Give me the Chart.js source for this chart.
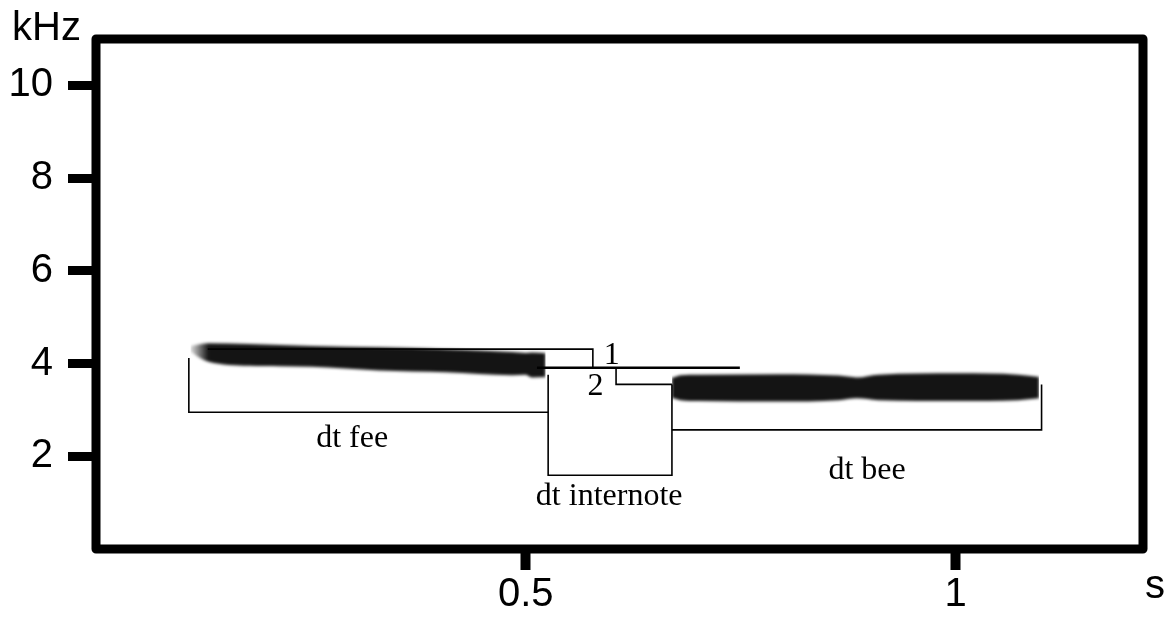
<!DOCTYPE html>
<html>
<head>
<meta charset="utf-8">
<title>fee-bee</title>
<script src="https://cdn.jsdelivr.net/npm/chart.js@4/dist/chart.umd.min.js"></script>
<style>
  html, body { margin: 0; padding: 0; background: #fff; }
  canvas { display: block; }
</style>
</head>
<body>
<canvas id="sonograma" width="1174" height="620"></canvas>
<script>
// Nota "fee": limites superior e inferior da banda (s, kHz)
const feeTimes = [0.110, 0.122, 0.131, 0.178, 0.251, 0.329, 0.407, 0.484, 0.500, 0.507, 0.523];
const feeUpper = [4.38, 4.42, 4.44, 4.42, 4.38, 4.35, 4.31, 4.25, 4.23, 4.24, 4.22];
const feeLower = [4.26, 4.11, 4.04, 3.95, 3.93, 3.85, 3.81, 3.75, 3.76, 3.70, 3.71];

// Nota "bee"
const beeTimes = [0.670, 0.680, 0.701, 0.794, 0.864, 0.885, 0.910, 1.003, 1.073, 1.097];
const beeUpper = [3.69, 3.75, 3.76, 3.77, 3.74, 3.70, 3.76, 3.79, 3.76, 3.71];
const beeLower = [3.26, 3.21, 3.19, 3.18, 3.21, 3.25, 3.21, 3.19, 3.21, 3.25];

const timeTicks = [0.5, 1];
const timeTickLabels = ["0.5", "1"];
const freqTicks = [2, 4, 6, 8, 10];
const freqTickLabels = ["2", "4", "6", "8", "10"];

// Chavetas das medições [s, kHz]
const feeBracket = [[0.108, 4.12], [0.108, 2.95], [0.526, 2.95]];
const internoteBracket = [[0.526, 3.76], [0.526, 1.59], [0.670, 1.59], [0.670, 3.55]];
const beeBracket = [[0.670, 2.57], [1.100, 2.57], [1.100, 3.55]];
const step1Line = [[0.130, 4.31], [0.578, 4.31], [0.578, 3.91]];
const step2Line = [[0.605, 3.91], [0.605, 3.55], [0.670, 3.55]];
const refLine = [[0.513, 3.91], [0.749, 3.91]];

const noteLabels = [
  { text: "dt fee", t: 0.298, f: 2.20 },
  { text: "dt internote", t: 0.597, f: 0.95 },
  { text: "dt bee", t: 0.897, f: 1.52 },
  { text: "1", t: 0.600, f: 3.99 },
  { text: "2", t: 0.581, f: 3.33 }
];

const SANS = '"Liberation Sans", Arial, sans-serif';
const SERIF = '"Liberation Serif", "Times New Roman", serif';
const BAND = "#141414";

function pontos(times, values) {
  return times.map((t, i) => ({ x: t, y: values[i] }));
}

function pares(lista) {
  return lista.map(([x, y]) => ({ x, y }));
}

// cor da nota fee: começa esbatida à esquerda
function feeFill(context) {
  const chart = context.chart;
  const xs = chart.scales.x;
  if (!chart.chartArea || !xs) return BAND;
  const x0 = xs.getPixelForValue(feeTimes[0]);
  const x1 = xs.getPixelForValue(feeTimes[2]);
  const grad = chart.ctx.createLinearGradient(x0, 0, x1, 0);
  grad.addColorStop(0, "rgba(20,20,20,0.15)");
  grad.addColorStop(1, BAND);
  return grad;
}

function banda(data, fill, cor) {
  return {
    data,
    fill,
    backgroundColor: cor,
    borderWidth: 0,
    pointRadius: 0,
    cubicInterpolationMode: "monotone",
    order: 10
  };
}

function traco(lista, largura = 1.6) {
  return {
    data: pares(lista),
    fill: false,
    borderColor: "#000",
    borderWidth: largura,
    pointRadius: 0,
    tension: 0,
    order: 0
  };
}

// desfoque só nas notas; moldura, rótulos e eixos extra
const sonogramaPlugin = {
  id: "sonograma",
  beforeDatasetsDraw(chart) {
    chart.ctx.filter = "blur(1.6px)";
  },
  afterDatasetDraw(chart, args) {
    if (args.index === 0) chart.ctx.filter = "none";
  },
  afterDatasetsDraw(chart) {
    const { ctx, chartArea, scales } = chart;
    ctx.save();
    ctx.filter = "none";

    ctx.lineWidth = 9;
    ctx.lineJoin = "round";
    ctx.strokeStyle = "#000";
    ctx.strokeRect(chartArea.left, chartArea.top, chartArea.right - chartArea.left, chartArea.bottom - chartArea.top);

    ctx.fillStyle = "#000";
    ctx.font = `32px ${SERIF}`;
    ctx.textAlign = "center";
    ctx.textBaseline = "alphabetic";
    noteLabels.forEach(l => {
      ctx.fillText(l.text, scales.x.getPixelForValue(l.t), scales.y.getPixelForValue(l.f));
    });

    ctx.font = `40px ${SANS}`;
    ctx.textAlign = "left";
    ctx.fillText("kHz", 12, 40);
    ctx.fillText("s", 1145, 598);
    ctx.restore();
  }
};

const datasets = [
  banda(pontos(feeTimes, feeUpper), "+1", feeFill),
  banda(pontos(feeTimes, feeLower), false, BAND),
  banda(pontos(beeTimes, beeUpper), "+1", BAND),
  banda(pontos(beeTimes, beeLower), false, BAND),
  traco(feeBracket),
  traco(internoteBracket),
  traco(beeBracket),
  traco(step1Line),
  traco(step2Line),
  traco(refLine, 2.6)
];

new Chart(document.getElementById("sonograma"), {
  type: "line",
  data: { datasets },
  options: {
    responsive: false,
    animation: false,
    events: [],
    layout: { padding: { top: 33, right: 31, left: 0, bottom: 0 } },
    plugins: {
      legend: { display: false },
      tooltip: { enabled: false },
      filler: { drawTime: "beforeDatasetDraw" }
    },
    scales: {
      x: {
        type: "linear",
        min: 0,
        max: 1.218,
        afterBuildTicks: scale => { scale.ticks = timeTicks.map(v => ({ value: v })); },
        afterFit: scale => { scale.height = 71; },
        border: { display: false },
        grid: {
          drawOnChartArea: false,
          drawTicks: true,
          tickLength: 21,
          tickWidth: 10,
          tickColor: "#000",
          color: "#000"
        },
        ticks: {
          autoSkip: false,
          maxRotation: 0,
          padding: 1,
          color: "#000",
          font: { family: SANS, size: 40 },
          callback: (value, index) => timeTickLabels[index]
        }
      },
      y: {
        type: "linear",
        min: 0,
        max: 11,
        afterBuildTicks: scale => { scale.ticks = freqTicks.map(v => ({ value: v })); },
        afterFit: scale => { scale.width = 96; },
        border: { display: false },
        grid: {
          drawOnChartArea: false,
          drawTicks: true,
          tickLength: 28,
          tickWidth: 9,
          tickColor: "#000",
          color: "#000"
        },
        ticks: {
          autoSkip: false,
          padding: 15,
          color: "#000",
          font: { family: SANS, size: 40 },
          callback: (value, index) => freqTickLabels[index]
        }
      }
    }
  },
  plugins: [sonogramaPlugin]
});
</script>
</body>
</html>
